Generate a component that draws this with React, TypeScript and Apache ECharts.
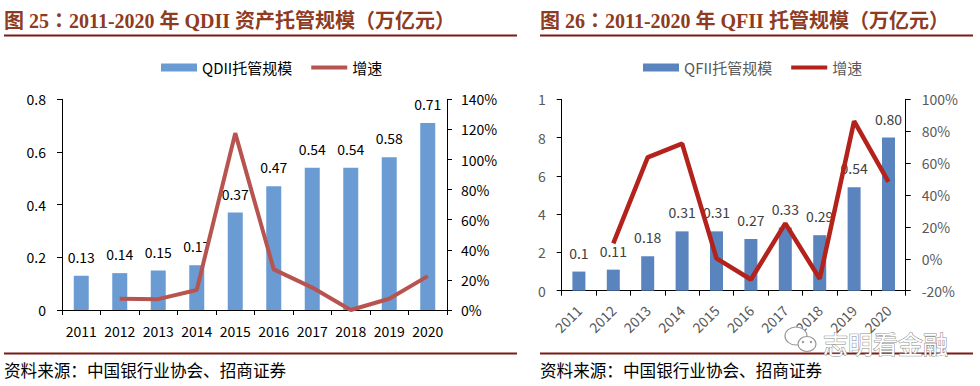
import React, { useEffect, useRef } from "react";
import * as echarts from "echarts";

const years = ["2011", "2012", "2013", "2014", "2015", "2016", "2017", "2018", "2019", "2020"];
const qdiiScale = [0.13, 0.14, 0.15, 0.17, 0.37, 0.47, 0.54, 0.54, 0.58, 0.71];
const qdiiLabels = ["0.13", "0.14", "0.15", "0.17", "0.37", "0.47", "0.54", "0.54", "0.58", "0.71"];
const qdiiGrowth = [null, 7.5, 7.2, 13.3, 117.5, 27, 14.9, 0, 7.5, 22.5];
const qfiiScale = [0.1, 0.11, 0.18, 0.31, 0.31, 0.27, 0.33, 0.29, 0.54, 0.8];
const qfiiLabels = ["0.1", "0.11", "0.18", "0.31", "0.31", "0.27", "0.33", "0.29", "0.54", "0.80"];
const qfiiGrowth = [null, 9.7, 63.6, 72.2, 0.3, -13, 22.2, -12.5, 86.3, 48.2];

const title1 = "图 25：2011-2020 年 QDII 资产托管规模（万亿元）";
const title2 = "图 26：2011-2020 年 QFII 托管规模（万亿元）";
const sourceText = "资料来源：中国银行业协会、招商证券";
const watermark = "志明看金融";

const CJK = "'Noto Sans CJK SC', 'Noto Sans', sans-serif";
const TITLE_FONT = "bold 20px 'Liberation Serif', 'Noto Sans CJK TC', serif";
const LINE_ICON = "path://M0,0H38V4H0Z";

export default function App() {
  const ref = useRef<HTMLDivElement>(null);
  useEffect(() => {
    if (!ref.current) return;
    const chart = echarts.init(ref.current, undefined, { renderer: "svg" });
    const axisLineBlack = { show: true, lineStyle: { color: "#000", width: 1 } };
    const option: any = {
      animation: false,
      backgroundColor: "#fff",
      textStyle: { fontFamily: CJK },
      grid: [
        { left: 62, width: 385, top: 99.3, bottom: 76, containLabel: false },
        { left: 561.7, width: 344, top: 99.3, bottom: 95.3, containLabel: false },
      ],
      legend: [
        {
          left: 156,
          top: 55,
          itemWidth: 36,
          itemHeight: 8,
          itemGap: 19,
          textStyle: { fontSize: 15, color: "#000", fontFamily: CJK },
          data: [
            { name: "QDII托管规模", icon: "rect" },
            { name: "增速", icon: LINE_ICON },
          ],
        },
        {
          left: 638,
          top: 55,
          itemWidth: 36,
          itemHeight: 8,
          itemGap: 19,
          formatter: (n: string) => n.trim(),
          textStyle: { fontSize: 15, color: "#595959", fontFamily: CJK },
          data: [
            { name: "QFII托管规模", icon: "rect" },
            { name: "增速 ", icon: LINE_ICON },
          ],
        },
      ],
      xAxis: [
        {
          type: "category",
          gridIndex: 0,
          data: years,
          axisLine: { ...axisLineBlack, onZero: false },
          axisTick: { show: true, length: 5, alignWithLabel: false, lineStyle: { color: "#000" } },
          axisLabel: { color: "#000", fontSize: 14, margin: 14, interval: 0 },
        },
        {
          type: "category",
          gridIndex: 1,
          data: years,
          axisLine: { ...axisLineBlack, onZero: false },
          axisTick: { show: true, length: 5, alignWithLabel: false, lineStyle: { color: "#000" } },
          axisLabel: { color: "#595959", fontSize: 14, margin: 17, interval: 0, rotate: 45 },
        },
      ],
      yAxis: [
        {
          type: "value",
          gridIndex: 0,
          min: 0,
          max: 0.8,
          interval: 0.2,
          axisLine: axisLineBlack,
          axisTick: { show: true, length: 5, lineStyle: { color: "#000" } },
          splitLine: { show: false },
          axisLabel: { color: "#000", fontSize: 14, margin: 16 },
        },
        {
          type: "value",
          gridIndex: 0,
          position: "right",
          min: 0,
          max: 140,
          interval: 20,
          axisLine: axisLineBlack,
          axisTick: { show: true, length: 5, lineStyle: { color: "#000" } },
          splitLine: { show: false },
          axisLabel: { color: "#000", fontSize: 14, margin: 14, formatter: "{value}%" },
        },
        {
          type: "value",
          gridIndex: 1,
          min: 0,
          max: 1,
          interval: 0.2,
          axisLine: axisLineBlack,
          axisTick: { show: true, length: 5, lineStyle: { color: "#000" } },
          splitLine: { show: false },
          axisLabel: {
            color: "#595959",
            fontSize: 14,
            margin: 16,
            formatter: (v: number) => {
              const s = String(Math.round(v * 10) / 10);
              return s.charAt(s.length - 1);
            },
          },
        },
        {
          type: "value",
          gridIndex: 1,
          position: "right",
          min: -20,
          max: 100,
          interval: 20,
          axisLine: axisLineBlack,
          axisTick: { show: true, length: 5, lineStyle: { color: "#000" } },
          splitLine: { show: false },
          axisLabel: { color: "#595959", fontSize: 14, margin: 16, formatter: "{value}%" },
        },
      ],
      series: [
        {
          name: "QDII托管规模",
          type: "bar",
          xAxisIndex: 0,
          yAxisIndex: 0,
          data: qdiiScale,
          barWidth: 15,
          itemStyle: { color: "#6A9BD2" },
          label: {
            show: true,
            position: "top",
            distance: 12,
            fontSize: 14,
            color: "#000",
            formatter: (p: any) => qdiiLabels[p.dataIndex],
          },
        },
        {
          name: "增速",
          type: "line",
          xAxisIndex: 0,
          yAxisIndex: 1,
          data: qdiiGrowth,
          symbol: "none",
          lineStyle: { color: "#B85450", width: 4 },
          itemStyle: { color: "#B85450" },
          z: 3,
        },
        {
          name: "QFII托管规模",
          type: "bar",
          xAxisIndex: 1,
          yAxisIndex: 2,
          data: qfiiScale,
          barWidth: 13,
          itemStyle: { color: "#5A84BE" },
          label: {
            show: true,
            position: "top",
            distance: 12,
            fontSize: 14,
            color: "#404040",
            formatter: (p: any) => qfiiLabels[p.dataIndex],
          },
        },
        {
          name: "增速 ",
          type: "line",
          xAxisIndex: 1,
          yAxisIndex: 3,
          data: qfiiGrowth,
          symbol: "none",
          lineStyle: { color: "#B3221B", width: 4.5 },
          itemStyle: { color: "#B3221B" },
          z: 3,
        },
      ],
      graphic: [
        { type: "text", x: 4, y: 21, style: { text: title1, font: TITLE_FONT, fill: "#8E3B1F", textVerticalAlign: "middle" } },
        { type: "text", x: 540, y: 21, style: { text: title2, font: TITLE_FONT, fill: "#8E3B1F", textVerticalAlign: "middle" } },
        { type: "rect", shape: { x: 4, y: 34.5, width: 513, height: 2 }, style: { fill: "#7B1C13" } },
        { type: "rect", shape: { x: 540, y: 34.5, width: 433, height: 2 }, style: { fill: "#7B1C13" } },
        { type: "rect", shape: { x: 4, y: 352.5, width: 513, height: 2 }, style: { fill: "#7B1C13" } },
        { type: "rect", shape: { x: 540, y: 352.5, width: 433, height: 2 }, style: { fill: "#7B1C13" } },
        { type: "text", x: 4, y: 370, style: { text: sourceText, font: "16.6px 'Noto Sans CJK SC'", fill: "#000", textVerticalAlign: "middle" } },
        { type: "text", x: 540, y: 370, style: { text: sourceText, font: "16.6px 'Noto Sans CJK SC'", fill: "#000", textVerticalAlign: "middle" } },
        { type: "ellipse", shape: { cx: 796, cy: 336, rx: 11, ry: 9 }, style: { fill: "#fff", stroke: "#999", lineWidth: 1.2 }, z: 100 },
        { type: "ellipse", shape: { cx: 807, cy: 344, rx: 9, ry: 7.5 }, style: { fill: "#fff", stroke: "#999", lineWidth: 1.2 }, z: 101 },
        { type: "circle", shape: { cx: 803, cy: 342, r: 1.2 }, style: { fill: "#999" }, z: 102 },
        { type: "circle", shape: { cx: 811, cy: 342, r: 1.2 }, style: { fill: "#999" }, z: 102 },
        {
          type: "text",
          x: 823,
          y: 343,
          z: 100,
          style: { text: watermark, font: "25px 'Noto Sans CJK SC'", fill: "#fff", stroke: "#888", lineWidth: 1, textVerticalAlign: "middle" },
        },
      ],
    };
    chart.setOption(option);
    return () => chart.dispose();
  }, []);
  return <div ref={ref} style={{ position: "absolute", left: 0, top: 0, width: 980, height: 386 }} />;
}
